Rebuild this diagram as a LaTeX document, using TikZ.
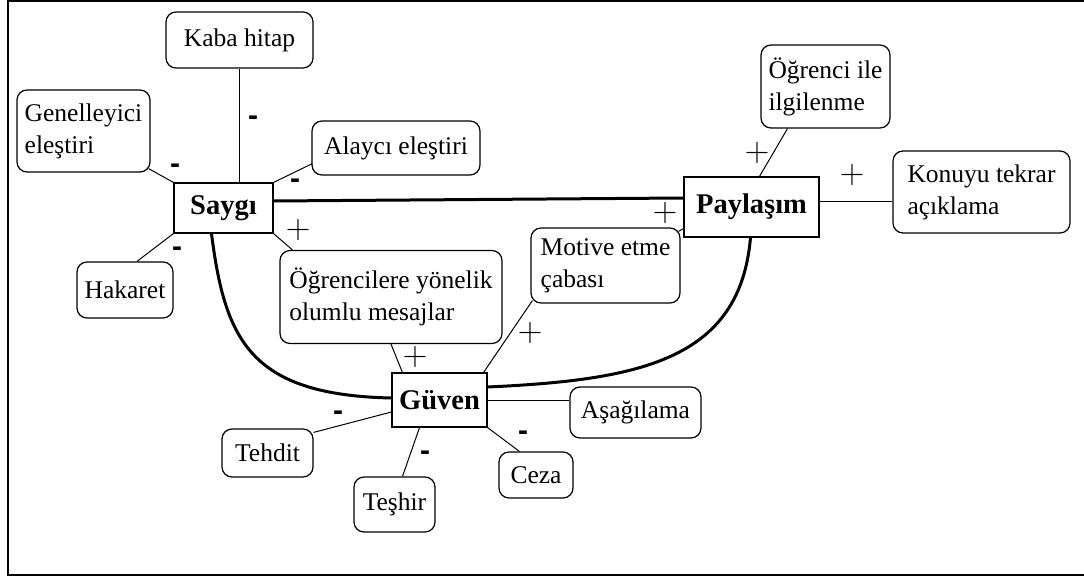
\documentclass[tikz,border=0pt]{standalone}
\usepackage{fontspec}
\newfontfamily\tnr{Liberation Serif}
\newfontfamily\arialb{Liberation Sans}
\tikzset{
  box/.style={draw, rounded corners=10pt, line width=1.2pt, inner sep=0pt, align=left, font=\tnr\fontsize{25.5}{32}\selectfont},
  core/.style={draw, line width=1.2pt, inner sep=0pt, font=\tnr\bfseries\fontsize{28.5}{32}\selectfont},
  conn/.style={line width=1pt},
  strong/.style={line width=3pt},
  minussign/.style={font=\arialb\bfseries\fontsize{30}{30}\selectfont, inner sep=0pt},
  plussign/.style={font=\rmfamily\fontsize{34}{34}\selectfont, inner sep=0pt},
}
\begin{document}
\begin{tikzpicture}[x=1pt,y=-1pt]
\useasboundingbox (0,0) rectangle (1084,577);
\draw[line width=2pt] (1086,1) -- (8,1) -- (8,574.7) -- (1086,574.7);
% nodes
\node[box, minimum width=147, minimum height=56] (kaba) at (239.5,40) {Kaba hitap};
\node[box, minimum width=133, minimum height=82] (gen) at (83.5,131) {Genelleyici\\eleştiri};
\node[box, minimum width=168, minimum height=54] (alayci) at (396,148) {Alaycı eleştiri};
\node[core, minimum width=99, minimum height=50] (saygi) at (223.5,208) {Saygı};
\node[box, minimum width=96, minimum height=56] (hakaret) at (125,290) {Hakaret};
\node[box, minimum width=222, minimum height=93] (ogr) at (391,297) {Öğrencilere yönelik\\olumlu mesajlar};
\node[box, minimum width=149, minimum height=75] (motive) at (605.5,265.5) {Motive etme\\çabası};
\node[core, minimum width=135, minimum height=60] (paylasim) at (751.5,207) {Paylaşım};
\node[box, minimum width=129, minimum height=83] (ilg) at (825.5,86.5) {Öğrenci ile\\ilgilenme};
\node[box, minimum width=177, minimum height=82] (konu) at (981.5,192) {Konuyu tekrar\\açıklama};
\node[core, minimum width=95, minimum height=54] (guven) at (439.5,400) {Güven};
\node[box, minimum width=131, minimum height=51] (asag) at (635.5,412.5) {Aşağılama};
\node[box, minimum width=91, minimum height=48] (tehdit) at (267.5,453) {Tehdit};
\node[box, minimum width=81, minimum height=55] (teshir) at (394.5,504.5) {Teşhir};
\node[box, minimum width=74, minimum height=46] (ceza) at (536,475) {Ceza};
% thin connectors
\draw[conn] (kaba.south) -- (kaba.south |- saygi.north);
\draw[conn] (saygi.north west) -- ([shift={(-2,-4)}]gen.south east);
\draw[conn] (saygi.north east) -- ([shift={(1,-12)}]alayci.south west);
\draw[conn] (saygi.south west) -- ([shift={(12,0)}]hakaret.north);
\draw[conn] (saygi.south east) -- ([shift={(13,0)}]ogr.north west);
\draw[conn] (ogr.south) -- ([shift={(11,0)}]guven.north west);
\draw[conn] ([shift={(-4,0)}]guven.north east) -- ([shift={(2,-3)}]motive.south west);
\draw[conn] ([shift={(-2,4)}]motive.north east) -- ([shift={(0,-9)}]paylasim.south west);
\draw[conn] ([shift={(8,0)}]paylasim.north) -- ([shift={(-38,0)}]ilg.south);
\draw[conn] ([shift={(0,-5)}]paylasim.east) -- ([shift={(0,10)}]konu.west);
\draw[conn] (guven.east) -- (guven.east -| asag.west);
\draw[conn] (guven.south east) -- ([shift={(21,0)}]ceza.north west);
\draw[conn] ([shift={(-20,0)}]guven.south) -- ([shift={(8,0)}]teshir.north);
\draw[conn] ([shift={(0,12)}]guven.west) -- ([shift={(0,4)}]tehdit.north east);
% thick connectors
\draw[strong] ([shift={(0,-7)}]saygi.east) -- ([shift={(0,-9)}]paylasim.west);
\draw[strong] ([shift={(-12,0)}]saygi.south) .. controls (225,340) and (250,395) .. ([shift={(0,-2)}]guven.west);
\draw[strong] ([shift={(0,-13)}]guven.east) .. controls (640,380) and (740,360) .. ([shift={(-1,0)}]paylasim.south);
% signs
\node[minussign] (m1) at (253,120.5) {-};
\node[minussign] (m2) at (175,168.5) {-};
\node[minussign] (m3) at (295,183.5) {-};
\node[minussign] (m4) at (177,251.5) {-};
\node[minussign] (m5) at (338,415.5) {-};
\node[minussign] (m6) at (425,455.5) {-};
\node[minussign] (m7) at (523,435.5) {-};
\node[plussign] (p1) at (298,230) {+};
\node[plussign] (p2) at (415,357) {+};
\node[plussign] (p3) at (530,333) {+};
\node[plussign] (p4) at (665,213) {+};
\node[plussign] (p5) at (757,153) {+};
\node[plussign] (p6) at (852,175) {+};
\end{tikzpicture}
\end{document}
